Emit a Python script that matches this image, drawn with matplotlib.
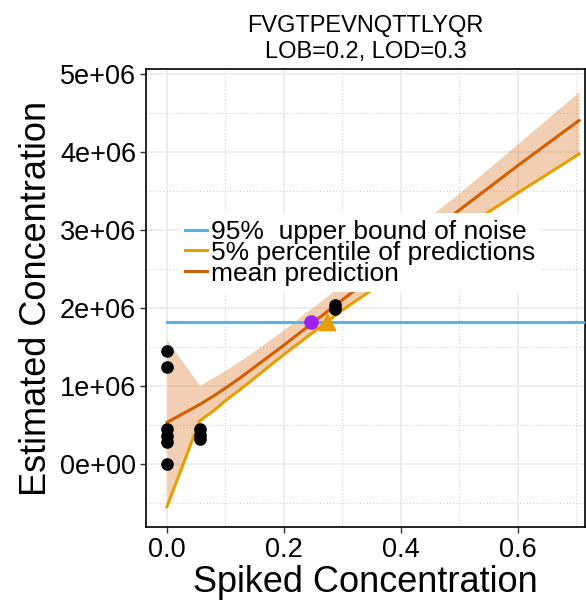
import matplotlib.pyplot as plt
from matplotlib.ticker import FixedLocator

plt.rcParams["font.family"] = ["Liberation Sans", "DejaVu Sans"]

title = "FVGTPEVNQTTLYQR\nLOB=0.2, LOD=0.3"

# observed points
spiked = [0, 0, 0, 0, 0, 0, 0.056, 0.056, 0.056, 0.287, 0.287]
estimated = [1.44e6, 1.24e6, 0.44e6, 0.36e6, 0.28e6, 0.0, 0.44e6, 0.37e6, 0.32e6, 2.04e6, 1.98e6]

# prediction curves
grid_x = [0, 0.056, 0.08, 0.1, 0.125, 0.15, 0.2, 0.3, 0.4, 0.5, 0.6, 0.705]
mean_pred = [0.53e6, 0.76e6, 0.87e6, 0.97e6, 1.10e6, 1.24e6, 1.52e6, 2.10e6, 2.68e6, 3.25e6, 3.82e6, 4.40e6]
upper_pred = [1.59e6, 1.00e6, 1.11e6, 1.20e6, 1.32e6, 1.45e6, 1.72e6, 2.30e6, 2.88e6, 3.47e6, 4.10e6, 4.77e6]
lower_pred = [-0.55e6, 0.55e6, 0.68e6, 0.81e6, 0.95e6, 1.10e6, 1.40e6, 1.97e6, 2.48e6, 2.98e6, 3.47e6, 3.97e6]

noise_bound = 1.82e6
lob = (0.246, 1.82e6)
lod = (0.273, 1.82e6)

xticks = [0.0, 0.2, 0.4, 0.6]
xtick_labels = ["0.0", "0.2", "0.4", "0.6"]
yticks = [0, 1e6, 2e6, 3e6, 4e6, 5e6]
ytick_labels = ["0e+00", "1e+06", "2e+06", "3e+06", "4e+06", "5e+06"]

fig = plt.figure(figsize=(5.86, 6.04), dpi=100)
ax = fig.add_axes([0.249, 0.1275, 0.75, 0.7583])

ax.fill_between(grid_x, lower_pred, upper_pred, color="#D55E00", alpha=0.3, linewidth=0, zorder=2)
ax.plot([0, 0.716], [noise_bound, noise_bound], color="#56B4E9", lw=2.2, zorder=3,
        label="95%  upper bound of noise")
ax.plot(grid_x, lower_pred, color="#E69F00", lw=2.2, zorder=3, label="5% percentile of predictions")
ax.plot(grid_x, mean_pred, color="#D55E00", lw=2.2, zorder=3, label="mean prediction")
ax.scatter(spiked, estimated, s=65, color="black", zorder=4)
ax.scatter([lob[0]], [lob[1]], s=90, color="#A020F0", zorder=5)
ax.scatter([lod[0]], [lod[1]], s=140, marker="^", color="#E69F00", zorder=5)

ax.set_xlim(-0.036, 0.716)
ax.set_ylim(-0.81e6, 5.06e6)
ax.set_xticks(xticks, labels=xtick_labels)
ax.set_yticks(yticks, labels=ytick_labels)
ax.xaxis.set_minor_locator(FixedLocator([0.1, 0.3, 0.5, 0.7]))
ax.yaxis.set_minor_locator(FixedLocator([-0.5e6, 0.5e6, 1.5e6, 2.5e6, 3.5e6, 4.5e6]))
ax.tick_params(which="major", labelsize=19.5, length=4, width=1, color="#333333", pad=3)
ax.tick_params(which="minor", length=0)
ax.grid(True, which="major", color="#EBEBEB", lw=1.2, zorder=0)
ax.grid(True, which="minor", color="#D0D0D0", lw=0.8, linestyle=(0, (1, 2)), zorder=0)
ax.set_axisbelow(True)
for s in ax.spines.values():
    s.set_linewidth(1.2)
    s.set_color("black")

ax.set_xlabel("Spiked Concentration", fontsize=26, labelpad=2)
ax.set_ylabel("Estimated Concentration", fontsize=26, labelpad=4)
ax.set_title(title, fontsize=17, linespacing=1.2, pad=8)

leg = ax.legend(loc="upper left", bbox_to_anchor=(0.075, 0.685), fontsize=19, frameon=True,
                framealpha=1, edgecolor="none", fancybox=False, handlelength=0.8,
                handletextpad=0.15, labelspacing=-0.12, borderpad=0.25, borderaxespad=0)
leg.set_zorder(6)

fig.savefig("out.png", dpi=100)
